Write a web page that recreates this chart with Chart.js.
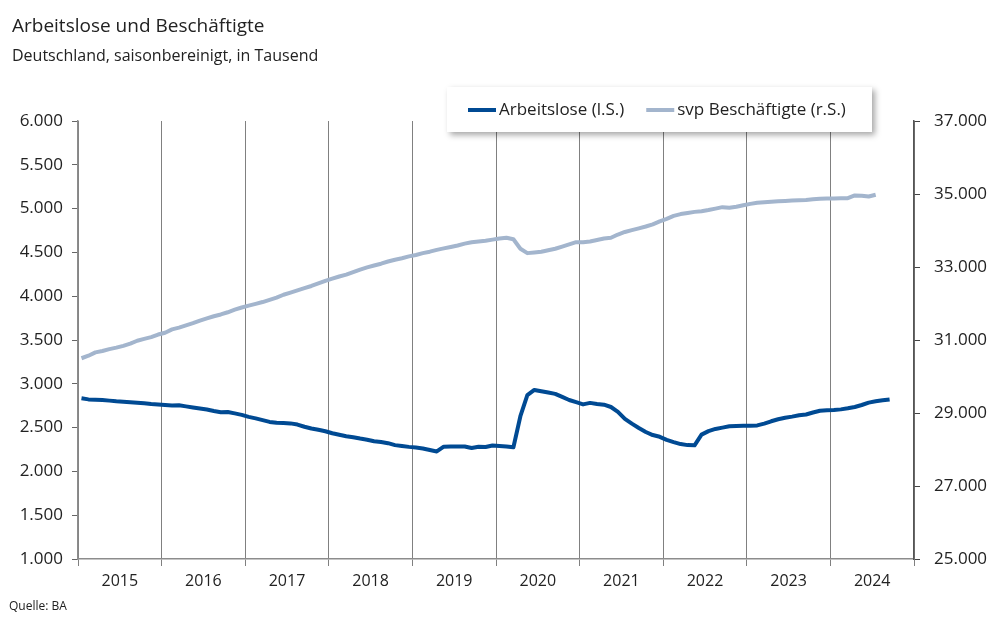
<!DOCTYPE html>
<html lang="de">
<head>
    <meta charset="UTF-8">
    <title>Arbeitslose und Beschäftigte</title>
    <script src="https://cdn.jsdelivr.net/npm/chart.js"></script>
    <style>
        body { margin: 0; background: #fff; }
        canvas { display: block; }
    </style>
</head>
<body>

<canvas id="grafik" width="989" height="621"></canvas>

<script>
    // Jahre (Achsenbeschriftung), Monatsdaten ab Januar 2015
    const jahre = ['2015', '2016', '2017', '2018', '2019', '2020', '2021', '2022', '2023', '2024'];

    // Arbeitslose in Tausend (linke Skala), Jan 2015 - Sep 2024
    const arbeitslose = [
        2835, 2822, 2818, 2815, 2808, 2800, 2795, 2790, 2785, 2778, 2770, 2765,
        2758, 2752, 2755, 2742, 2730, 2718, 2706, 2690, 2676, 2678, 2662, 2645,
        2622, 2605, 2585, 2565, 2555, 2552, 2548, 2535, 2510, 2490, 2475, 2458,
        2435, 2418, 2402, 2390, 2375, 2362, 2345, 2335, 2322, 2300, 2290, 2280,
        2272, 2262, 2245, 2228, 2282, 2285, 2285, 2285, 2268, 2282, 2278, 2295,
        2290, 2285, 2275, 2630, 2870, 2930, 2915, 2900, 2885, 2850, 2815, 2790,
        2765, 2782, 2770, 2762, 2735, 2680, 2600, 2545, 2495, 2450, 2415, 2395,
        2360, 2335, 2312, 2300, 2298, 2420, 2460, 2485, 2500, 2515, 2518, 2520,
        2522, 2525, 2545, 2572, 2595, 2612, 2625, 2640, 2650, 2672, 2692, 2698,
        2702, 2708, 2720, 2735, 2758, 2785, 2800, 2812, 2822
    ];

    // sozialversicherungspflichtig Beschäftigte in Tausend (rechte Skala), Jan 2015 - Jul 2024
    const beschaeftigte = [
        30500, 30570, 30660, 30700, 30750, 30790, 30840, 30900, 30980, 31030, 31080, 31150,
        31200, 31290, 31340, 31400, 31460, 31530, 31590, 31650, 31700, 31760, 31830, 31890,
        31940, 31990, 32040, 32100, 32160, 32240, 32300, 32360, 32420, 32480, 32550, 32620,
        32680, 32740, 32790, 32860, 32930, 32990, 33040, 33090, 33150, 33200, 33240, 33290,
        33330, 33380, 33420, 33470, 33510, 33550, 33590, 33640, 33680, 33700, 33720, 33750,
        33780, 33800, 33760, 33500, 33380, 33400, 33420, 33460, 33500, 33560, 33620, 33680,
        33680, 33700, 33740, 33780, 33800, 33890, 33960, 34010, 34060, 34110, 34170, 34250,
        34320, 34400, 34450, 34480, 34510, 34530, 34560, 34600, 34640, 34625, 34650, 34690,
        34730, 34760, 34775, 34790, 34800, 34808, 34820, 34830, 34838, 34855, 34872, 34880,
        34880, 34882, 34885, 34960, 34955, 34930, 34980
    ];

    const schrift = '"Open Sans", "Noto Sans", sans-serif';

    // Tausenderpunkt wie im Original
    function format(v) {
        return String(v).replace(/\B(?=(\d{3})+(?!\d))/g, '.');
    }

    // Monatswerte in die Mitte des jeweiligen Monats legen
    function punkte(werte) {
        return werte.map((v, i) => ({ x: i + 0.5, y: v }));
    }

    // Titel, Quelle und Legendenkasten mit Schatten
    const beschriftung = {
        id: 'beschriftung',
        afterDraw(chart) {
            const c = chart.ctx;
            c.save();
            c.fillStyle = '#222';
            c.textBaseline = 'middle';
            c.textAlign = 'left';
            c.font = '19px ' + schrift;
            c.fillText('Arbeitslose und Beschäftigte', 12, 27);
            c.font = '16px ' + schrift;
            c.fillText('Deutschland, saisonbereinigt, in Tausend', 12, 56);
            c.font = '12px ' + schrift;
            c.fillText('Quelle: BA', 9, 607);

            // Legende
            c.shadowColor = 'rgba(0, 0, 0, 0.35)';
            c.shadowBlur = 6;
            c.shadowOffsetX = 3;
            c.shadowOffsetY = 3;
            c.fillStyle = '#fff';
            c.fillRect(447, 87, 425, 45);
            c.shadowColor = 'transparent';

            c.font = '17px ' + schrift;
            let x = 468;
            chart.data.datasets.forEach(ds => {
                c.strokeStyle = ds.borderColor;
                c.lineWidth = 4;
                c.beginPath();
                c.moveTo(x, 110);
                c.lineTo(x + 28, 110);
                c.stroke();
                c.fillStyle = '#222';
                c.fillText(ds.label, x + 31, 110);
                x += 31 + c.measureText(ds.label).width + 22;
            });
            c.restore();
        }
    };

    const ctx = document.getElementById('grafik').getContext('2d');

    new Chart(ctx, {
        type: 'line',
        data: {
            datasets: [
                {
                    label: 'Arbeitslose (l.S.)',
                    data: punkte(arbeitslose),
                    yAxisID: 'y',
                    borderColor: '#004a93',
                    borderWidth: 4,
                    pointRadius: 0,
                    borderJoinStyle: 'round',
                    tension: 0
                },
                {
                    label: 'svp Beschäftigte (r.S.)',
                    data: punkte(beschaeftigte),
                    yAxisID: 'y2',
                    borderColor: '#a3b5cd',
                    borderWidth: 4,
                    pointRadius: 0,
                    borderJoinStyle: 'round',
                    tension: 0
                }
            ]
        },
        options: {
            responsive: false,
            animation: false,
            layout: { padding: { top: 121, bottom: 22, left: 0, right: 0 } },
            plugins: {
                legend: { display: false },
                tooltip: { enabled: false }
            },
            scales: {
                x: {
                    type: 'linear',
                    min: 0,
                    max: 120,
                    afterBuildTicks: scale => {
                        const t = [];
                        for (let v = 0; v <= 120; v += 6) t.push({ value: v });
                        scale.ticks = t;
                    },
                    afterFit: scale => { scale.height = 40; },
                    grid: {
                        color: c => (c.tick && c.tick.value % 12 === 0) ? '#808080' : 'rgba(0,0,0,0)',
                        lineWidth: 1,
                        tickLength: 7
                    },
                    border: { display: true, color: '#8c8c8c', width: 1.5 },
                    ticks: {
                        autoSkip: false,
                        maxRotation: 0,
                        padding: 6,
                        color: '#222',
                        font: { family: schrift, size: 16 },
                        callback: v => (v % 12 === 6) ? jahre[(v - 6) / 12] : ''
                    }
                },
                y: {
                    position: 'left',
                    min: 1000,
                    max: 6000,
                    afterFit: scale => { scale.width = 78; },
                    grid: { drawOnChartArea: false, tickLength: 6, color: '#666' },
                    border: { display: true, color: '#8c8c8c', width: 1.5 },
                    ticks: {
                        stepSize: 500,
                        padding: 9,
                        color: '#222',
                        font: { family: schrift, size: 17 },
                        callback: v => format(v)
                    }
                },
                y2: {
                    position: 'right',
                    min: 25000,
                    max: 37000,
                    afterFit: scale => { scale.width = 75; },
                    grid: { drawOnChartArea: false, tickLength: 6, color: '#444' },
                    border: { display: true, color: '#555', width: 1.5 },
                    ticks: {
                        stepSize: 2000,
                        padding: 14,
                        color: '#222',
                        font: { family: schrift, size: 17 },
                        callback: v => format(v)
                    }
                }
            }
        },
        plugins: [beschriftung]
    });
</script>

</body>
</html>
